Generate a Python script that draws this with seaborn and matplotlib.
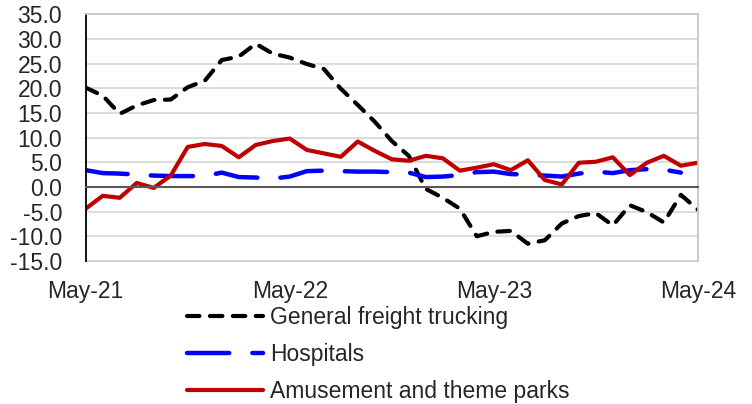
import numpy as np
import matplotlib
matplotlib.use("Agg")
import matplotlib.pyplot as plt
import seaborn as sns

# --- data (monthly, May-21 .. May-24) ---
months = np.arange(37)
tick_pos = [0, 12, 24, 36]
tick_labels = ["May-21", "May-22", "May-23", "May-24"]

trucking = [20.1, 18.5, 14.8, 16.5, 17.6, 17.7, 20.2, 21.5, 25.7, 26.4,
            29.0, 27.0, 26.2, 24.9, 23.9, 19.9, 16.6, 13.2, 9.3, 6.3,
            -0.4, -2.2, -4.4, -10.0, -9.1, -8.9, -11.5, -10.8, -7.4, -5.9,
            -5.3, -7.8, -3.7, -5.1, -7.2, -1.6, -4.6]
hospitals = [3.4, 2.8, 2.7, 2.5, 2.3, 2.2, 2.2, 2.2, 2.9, 2.0,
             1.9, 1.7, 2.1, 3.2, 3.3, 3.2, 3.1, 3.1, 3.0, 2.9,
             2.0, 2.1, 2.4, 3.0, 3.1, 2.6, 2.5, 2.3, 2.1, 2.7,
             3.1, 2.8, 3.4, 3.6, 3.5, 2.9, np.nan]
amusement = [-4.4, -1.8, -2.2, 0.8, -0.2, 2.3, 8.1, 8.7, 8.3, 6.0,
             8.5, 9.3, 9.8, 7.5, 6.8, 6.1, 9.2, 7.3, 5.6, 5.3,
             6.3, 5.8, 3.3, 3.9, 4.6, 3.4, 5.4, 1.4, 0.5, 4.9,
             5.1, 6.0, 2.4, 4.9, 6.3, 4.3, 4.9]

sns.set_style("white")
plt.rcParams['font.family'] = ['Liberation Sans', 'DejaVu Sans']
FS = 16.5

fig = plt.figure(figsize=(7.52, 4.04), dpi=100)
ax = fig.add_axes([0.114, 0.354, 0.814, 0.611])

sns.lineplot(x=months, y=trucking, ax=ax, color="black", linewidth=3,
             linestyle=(0, (3, 2.5)), dash_capstyle="round",
             label="General freight trucking")
sns.lineplot(x=months, y=hospitals, ax=ax, color="#0000ff", linewidth=3.2,
             linestyle=(0, (9.5, 5.2)), dash_capstyle="round",
             label="Hospitals")
sns.lineplot(x=months, y=amusement, ax=ax, color="#c00000", linewidth=3,
             label="Amusement and theme parks")

# y axis
ax.set_ylim(-15, 35)
ax.set_yticks(np.arange(-15, 36, 5))
ax.set_yticklabels([f"{v:.1f}" for v in np.arange(-15, 36, 5)], fontsize=FS)
ax.tick_params(axis="y", length=0, pad=17)
ax.yaxis.grid(True, color="#d9d9d9", linewidth=1.3)
ax.set_axisbelow(True)

# x axis crosses at zero, labels at the bottom
ax.set_xlim(0, 36)
ax.set_xticks(tick_pos)
ax.spines["bottom"].set_position(("data", 0))
ax.spines["bottom"].set_color("#595959")
ax.spines["bottom"].set_linewidth(1.5)
ax.tick_params(axis="x", direction="out", length=6, width=1.2,
               color="#595959", labelbottom=False)
ax.spines["left"].set_color("black")
ax.spines["left"].set_linewidth(1.3)
for s in ["top", "right"]:
    ax.spines[s].set_color("#c8c8c8")
    ax.spines[s].set_linewidth(1.3)

sec = ax.secondary_xaxis("bottom")
sec.set_xticks(tick_pos)
sec.set_xticklabels(tick_labels, fontsize=FS)
sec.tick_params(length=0, pad=14)
sec.spines["bottom"].set_color("#c8c8c8")
sec.spines["bottom"].set_linewidth(1.3)

ax.set_xlabel("")
ax.set_ylabel("")

# legend below the chart
handles, labels = ax.get_legend_handles_labels()
ax.get_legend().remove()
fig.legend(handles, labels, loc="upper left", bbox_to_anchor=(0.249, 0.242),
           frameon=False, fontsize=FS, borderpad=0, borderaxespad=0,
           handlelength=3.3, handletextpad=0.3, labelspacing=0.6)

fig.savefig("out.png", dpi=100)
